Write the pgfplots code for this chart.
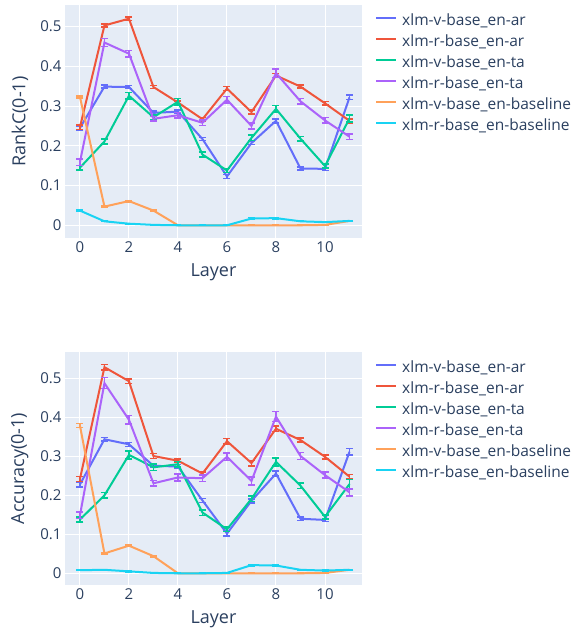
\documentclass[border=0pt]{standalone}
\usepackage{pgfplots}
\usepackage{pgfplotstable}
\pgfplotsset{compat=1.18}
\usepackage{fontspec}
\setmainfont{Open Sans}
\definecolor{bgc}{HTML}{E5ECF6}
\definecolor{txt}{HTML}{2A3F5F}
\definecolor{c1}{HTML}{636EFA}
\definecolor{c2}{HTML}{EF553B}
\definecolor{c3}{HTML}{00CC96}
\definecolor{c4}{HTML}{AB63FA}
\definecolor{c5}{HTML}{FFA15A}
\definecolor{c6}{HTML}{19D3F3}

\pgfplotstableread{
x va vae ra rae vt vte rt rte vb vbe rb rbe
0 0.245 0.005 0.247 0.006 0.145 0.006 0.159 0.008 0.323 0.003 0.037 0.001
1 0.349 0.004 0.503 0.004 0.211 0.006 0.460 0.010 0.047 0.002 0.010 0.001
2 0.348 0.004 0.520 0.004 0.326 0.008 0.432 0.008 0.061 0.002 0.004 0.001
3 0.283 0.005 0.348 0.004 0.272 0.007 0.268 0.006 0.037 0.002 0.001 0.001
4 0.286 0.004 0.309 0.004 0.311 0.008 0.277 0.007 0.000 0.001 0.000 0.001
5 0.217 0.004 0.267 0.004 0.178 0.006 0.258 0.007 0.000 0.001 0.000 0.001
6 0.123 0.005 0.344 0.005 0.138 0.005 0.316 0.008 0.000 0.001 0.000 0.001
7 0.207 0.004 0.285 0.005 0.220 0.007 0.250 0.008 0.000 0.001 0.017 0.002
8 0.263 0.005 0.377 0.005 0.293 0.009 0.383 0.011 0.000 0.001 0.018 0.002
9 0.143 0.004 0.349 0.004 0.218 0.006 0.312 0.007 0.000 0.001 0.010 0.001
10 0.142 0.004 0.307 0.004 0.149 0.005 0.264 0.007 0.001 0.001 0.008 0.001
11 0.322 0.006 0.263 0.005 0.269 0.009 0.223 0.007 0.011 0.001 0.011 0.001
}\rankc

\pgfplotstableread{
x va vae ra rae vt vte rt rte vb vbe rb rbe
0 0.228 0.006 0.242 0.006 0.138 0.006 0.149 0.008 0.379 0.005 0.008 0.001
1 0.344 0.005 0.529 0.007 0.200 0.007 0.488 0.014 0.051 0.002 0.009 0.001
2 0.331 0.005 0.493 0.006 0.304 0.010 0.394 0.011 0.071 0.002 0.005 0.001
3 0.276 0.005 0.301 0.006 0.272 0.008 0.231 0.007 0.044 0.002 0.001 0.001
4 0.274 0.005 0.289 0.005 0.280 0.007 0.246 0.009 0.000 0.001 0.000 0.001
5 0.187 0.005 0.256 0.004 0.156 0.007 0.244 0.008 0.000 0.001 0.000 0.001
6 0.102 0.006 0.339 0.007 0.113 0.006 0.299 0.010 0.000 0.001 0.001 0.001
7 0.186 0.005 0.283 0.007 0.191 0.007 0.237 0.010 0.000 0.001 0.021 0.002
8 0.256 0.006 0.371 0.007 0.286 0.010 0.402 0.013 0.000 0.001 0.020 0.002
9 0.140 0.004 0.342 0.005 0.225 0.007 0.301 0.009 0.000 0.001 0.009 0.001
10 0.137 0.004 0.299 0.005 0.145 0.005 0.252 0.008 0.001 0.001 0.007 0.001
11 0.312 0.008 0.248 0.005 0.229 0.012 0.208 0.009 0.009 0.001 0.009 0.001
}\accu

\pgfplotsset{
  plotlystyle/.style={
    width=297pt, height=233pt, scale only axis,
    axis background/.style={fill=bgc},
    axis line style={draw=none},
    tick style={draw=none},
    grid=major,
    major grid style={white, line width=1pt},
    xmin=-0.61, xmax=11.51,
    xtick={0,2,4,6,8,10},
    ytick={0,0.1,0.2,0.3,0.4,0.5},
    /pgf/number format/assume math mode=true,
    ticklabel style={font=\fontsize{15}{18}\selectfont, text=txt},
    xlabel={Layer},
    every axis x label/.style={at={(axis description cs:0.5,-0.146)}, anchor=center,
      font=\fontsize{18}{21}\selectfont, text=txt},
    every axis y label/.style={at={(axis description cs:-0.152,0.5)}, anchor=center, rotate=90,
      font=\fontsize{18}{21}\selectfont, text=txt},
    legend style={at={(1.0438,0.958)}, anchor=north west, draw=none, fill=none,
      inner sep=0pt, row sep=6pt, column sep=5pt,
      font=\fontsize{15.5}{18}\selectfont, text=txt,
      nodes={inner sep=0pt, text height=11pt, text depth=4pt}},
    legend cell align=left,
    legend image code/.code={\draw[line width=2pt] (0pt,4.2pt) -- (20pt,4.2pt);},
    every axis plot/.append style={line width=2pt, mark=none},
    error bars/y dir=both,
    error bars/y explicit,
    error bars/error bar style={line width=1.5pt},
    error bars/error mark options={line width=1.5pt, mark size=3.5pt, rotate=90},
  }
}

\begin{document}
\begin{tikzpicture}
\useasboundingbox (0pt,0pt) rectangle (579pt,631pt);
\begin{axis}[plotlystyle, at={(65pt,626pt)}, anchor=north west,
  ymin=-0.032, ymax=0.5545, ylabel={RankC(0-1)}]
\addplot[c1] table[x=x, y=va, y error=vae] {\rankc};
\addlegendentry{xlm-v-base\_en-ar}
\addplot[c2] table[x=x, y=ra, y error=rae] {\rankc};
\addlegendentry{xlm-r-base\_en-ar}
\addplot[c3] table[x=x, y=vt, y error=vte] {\rankc};
\addlegendentry{xlm-v-base\_en-ta}
\addplot[c4] table[x=x, y=rt, y error=rte] {\rankc};
\addlegendentry{xlm-r-base\_en-ta}
\addplot[c5] table[x=x, y=vb, y error=vbe] {\rankc};
\addlegendentry{xlm-v-base\_en-baseline}
\addplot[c6] table[x=x, y=rb, y error=rbe] {\rankc};
\addlegendentry{xlm-r-base\_en-baseline}
\end{axis}
\begin{axis}[plotlystyle, at={(65pt,279pt)}, anchor=north west,
  ymin=-0.03, ymax=0.568, ylabel={Accuracy(0-1)}]
\addplot[c1] table[x=x, y=va, y error=vae] {\accu};
\addlegendentry{xlm-v-base\_en-ar}
\addplot[c2] table[x=x, y=ra, y error=rae] {\accu};
\addlegendentry{xlm-r-base\_en-ar}
\addplot[c3] table[x=x, y=vt, y error=vte] {\accu};
\addlegendentry{xlm-v-base\_en-ta}
\addplot[c4] table[x=x, y=rt, y error=rte] {\accu};
\addlegendentry{xlm-r-base\_en-ta}
\addplot[c5] table[x=x, y=vb, y error=vbe] {\accu};
\addlegendentry{xlm-v-base\_en-baseline}
\addplot[c6] table[x=x, y=rb, y error=rbe] {\accu};
\addlegendentry{xlm-r-base\_en-baseline}
\end{axis}
\end{tikzpicture}
\end{document}
